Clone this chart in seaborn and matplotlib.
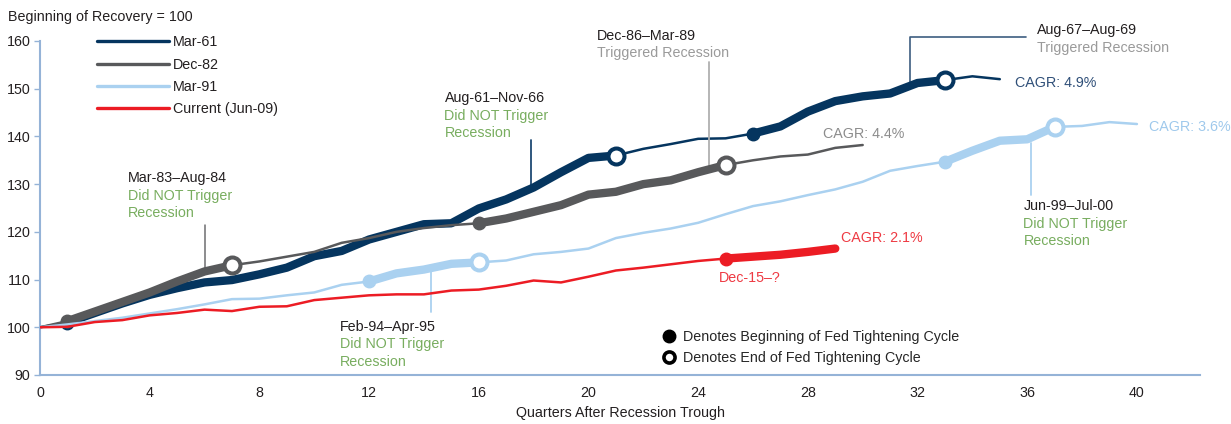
import numpy as np
import pandas as pd
import matplotlib
matplotlib.use("Agg")
import matplotlib.pyplot as plt
import seaborn as sns
from matplotlib.lines import Line2D

# index level per quarter after the trough (beginning of recovery = 100)
mar61 = [100, 101, 103, 105, 106.8, 108.2, 109.4, 109.9, 111.1, 112.5, 114.9, 116.0,
         118.4, 120.0, 121.6, 121.8, 124.9, 126.8, 129.3, 132.5, 135.5, 136.0, 137.4,
         138.4, 139.5, 139.6, 140.6, 142.1, 145.2, 147.4, 148.4, 149.0, 151.2, 151.8,
         152.6, 152.0]
dec82 = [100, 101.3, 103.3, 105.3, 107.3, 109.6, 111.7, 113.0, 113.8, 114.8, 115.8,
         117.7, 118.7, 120.0, 120.8, 121.4, 121.8, 122.8, 124.2, 125.6, 127.8, 128.4,
         130.0, 130.8, 132.5, 134.0, 135.0, 135.8, 136.2, 137.6, 138.2]
mar91 = [100, 100.6, 101.3, 102.0, 102.9, 103.8, 104.8, 105.9, 106.0, 106.7, 107.3,
         108.9, 109.6, 111.3, 112.1, 113.3, 113.6, 114.0, 115.3, 115.8, 116.5, 118.7,
         119.8, 120.7, 121.9, 123.7, 125.4, 126.4, 127.7, 128.9, 130.5, 132.8, 133.8,
         134.7, 137.0, 139.1, 139.4, 142.0, 142.2, 143.0, 142.6]
current = [100, 100.1, 101.1, 101.5, 102.5, 103.0, 103.7, 103.4, 104.3, 104.4, 105.7,
           106.2, 106.7, 106.9, 106.9, 107.7, 107.9, 108.7, 109.8, 109.4, 110.6, 111.9,
           112.5, 113.2, 113.9, 114.4, 114.8, 115.2, 115.8, 116.5]

cycles = ["Mar-61", "Dec-82", "Mar-91", "Current (Jun-09)"]
values = [mar61, dec82, mar91, current]
colors = ["#05355f", "#58595b", "#aad1f0", "#ec1c24"]
# fed tightening cycles (start quarter, end quarter; None = still going)
tightening = [[(1, 21), (26, 33)], [(1, 7), (16, 25)], [(12, 16), (33, 37)], [(25, None)]]

FS = 10.3

sns.set_style("white")
plt.rcParams["font.family"] = ["Liberation Sans", "DejaVu Sans"]
plt.rcParams["font.size"] = FS

df = pd.concat([pd.DataFrame({"quarter": np.arange(len(v)), "level": v, "cycle": c})
                for c, v in zip(cycles, values)], ignore_index=True)

fig = plt.figure(figsize=(12.31, 4.24), dpi=100)
ax = fig.add_axes([40 / 1231, 1 - 375 / 424, 1160 / 1231, 334 / 424])

for i, (name, col) in enumerate(zip(cycles, colors)):
    d = df[df.cycle == name]
    z = 2 + i * 3
    sns.lineplot(data=d, x="quarter", y="level", color=col, linewidth=1.8, ax=ax,
                 legend=False, zorder=z, solid_joinstyle="round")
    for start, end in tightening[i]:
        stop = d.quarter.max() if end is None else end
        seg = d[(d.quarter >= start) & (d.quarter <= stop)]
        sns.lineplot(data=seg, x="quarter", y="level", color=col, linewidth=6.0, ax=ax,
                     legend=False, zorder=z + 1, solid_capstyle="round",
                     solid_joinstyle="round")
        b = d[d.quarter == start]
        ax.plot(b.quarter, b.level, "o", ms=9, color=col, zorder=z + 2)
        if end is not None:
            e = d[d.quarter == end]
            ax.plot(e.quarter, e.level, "o", ms=11.5, mfc="white", mec=col, mew=2.9,
                    zorder=z + 2)

ax.set_xlim(0, 42.3)
ax.set_ylim(90, 160)
ax.set_xticks(range(0, 41, 4))
ax.set_yticks(range(90, 161, 10))
ax.set_xlabel("Quarters After Recession Trough", fontsize=FS, color="#231f20", labelpad=4)
ax.set_ylabel("")

spine_c = "#95b3d7"
for s in ["top", "right"]:
    ax.spines[s].set_visible(False)
for s in ["left", "bottom"]:
    ax.spines[s].set_color(spine_c)
    ax.spines[s].set_linewidth(1.5)
ax.tick_params(axis="y", left=True, length=4, width=1, color=spine_c, pad=3,
               labelsize=FS, labelcolor="#231f20")
ax.tick_params(axis="x", bottom=False, length=0, pad=8, labelsize=FS, labelcolor="#231f20")

fig.text(8 / 1231, 1 - 17 / 424, "Beginning of Recovery = 100", ha="left", va="center",
         fontsize=FS, color="#231f20")

handles = [Line2D([], [], color=c, lw=2.4) for c in colors]
leg = ax.legend(handles, cycles, loc="upper left", bbox_to_anchor=((97 - 40) / 1160, 1.017),
                frameon=False, handlelength=5.0, handletextpad=0.3, labelspacing=0.58,
                borderpad=0, borderaxespad=0, fontsize=FS)
for t in leg.get_texts():
    t.set_color("#231f20")
ax.add_artist(leg)

mk = [Line2D([], [], ls="", marker="o", ms=9, color="black"),
      Line2D([], [], ls="", marker="o", ms=8, mfc="white", mec="black", mew=2.6)]
ax.legend(mk, ["Denotes Beginning of Fed Tightening Cycle", "Denotes End of Fed Tightening Cycle"],
          loc="upper left", bbox_to_anchor=(0.536, 0.136), frameon=False, handlelength=1.0,
          handletextpad=0.48, labelspacing=0.5, borderpad=0, borderaxespad=0, fontsize=FS)

black = "#231f20"
green = "#78ad5f"
grey_t = "#9a9a9a"
step = 3.67


def block(x, y, lines, cols):
    for k, (t, c) in enumerate(zip(lines, cols)):
        ax.text(x, y - k * step, t, color=c, ha="left", va="center", fontsize=FS,
                clip_on=False, zorder=20)


block(3.2, 131.2, ["Mar-83–Aug-84", "Did NOT Trigger", "Recession"], [black, green, green])
ax.plot([6.02, 6.02], [121.4, 111.9], color="#6d6e70", lw=1.1)

block(14.75, 148.0, ["Aug-61–Nov-66", "Did NOT Trigger", "Recession"], [black, green, green])
ax.plot([17.92, 17.92], [139.2, 129.6], color="#1f4a74", lw=1.3)

block(20.32, 161.1, ["Dec-86–Mar-89", "Triggered Recession"], [black, grey_t])
ax.plot([24.41, 24.41], [155.6, 132.9], color="#b0b0b0", lw=1.3)

block(36.34, 162.3, ["Aug-67–Aug-69", "Triggered Recession"], [black, grey_t])
ax.plot([31.73, 31.73, 35.95], [151.4, 160.8, 160.8], color="#3d5d80", lw=1.2, clip_on=False)

block(35.86, 125.4, ["Jun-99–Jul-00", "Did NOT Trigger", "Recession"], [black, green, green])
ax.plot([36.13, 36.13], [138.6, 127.8], color="#aad1f0", lw=1.3)

block(10.95, 100.1, ["Feb-94–Apr-95", "Did NOT Trigger", "Recession"], [black, green, green])
ax.plot([14.27, 14.27], [112.5, 103.1], color="#aad1f0", lw=1.3)

ax.text(35.55, 151.1, "CAGR: 4.9%", color="#2f4f78", ha="left", va="center", fontsize=FS)
ax.text(28.55, 140.6, "CAGR: 4.4%", color="#8c8c8c", ha="left", va="center", fontsize=FS)
ax.text(40.45, 141.9, "CAGR: 3.6%", color="#9fc9ec", ha="left", va="center", fontsize=FS,
        clip_on=False)
ax.text(29.2, 118.8, "CAGR: 2.1%", color="#ee3a43", ha="left", va="center", fontsize=FS)
ax.text(24.75, 110.4, "Dec-15–?", color="#ee3a43", ha="left", va="center", fontsize=FS)

fig.savefig("out.png", dpi=100)
